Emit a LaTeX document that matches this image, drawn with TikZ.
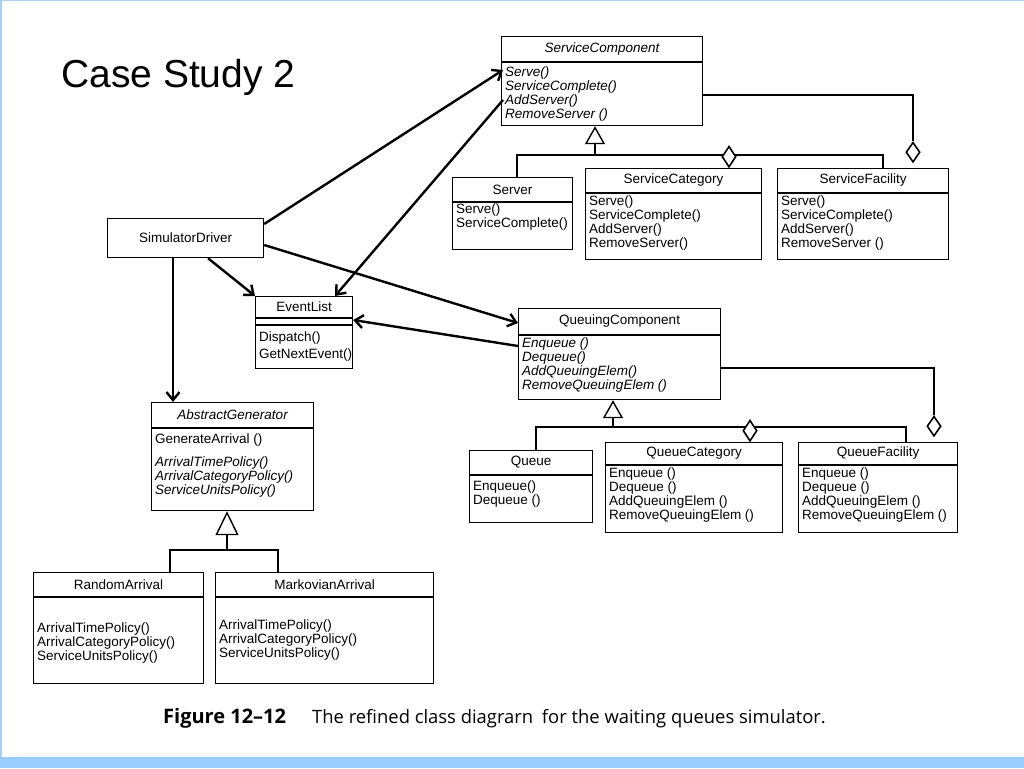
\documentclass[tikz,border=0pt]{standalone}
\usepackage{fontspec}
\setmainfont{Liberation Sans}
\newfontfamily\capfont{Open Sans}
\usetikzlibrary{arrows.meta,calc,shapes.geometric}
\definecolor{slideblue}{HTML}{99CCFF}
\definecolor{edgeblue}{HTML}{A9D1F5}
\tikzset{
  clsbox/.style={draw, line width=1.2pt, inner sep=0pt},
  boxline/.style={line width=1.2pt},
  clstitle/.style={font=\fontsize{13.5}{14}\selectfont, inner sep=0pt},
  clsops/.style={font=\fontsize{13.5}{14}\selectfont, align=left, inner sep=0pt},
  assoc/.style={line width=2.4pt, -{Straight Barb[length=8pt,width=13pt]}},
  hier/.style={line width=2.8pt},
  gentip/.style={-{Triangle[open,length=18pt,width=20pt,line width=1.4pt]}},
  aggd/.style={diamond, draw, fill=white, line width=1.6pt, inner sep=0pt,
    minimum width=14pt, minimum height=21pt, anchor=south},
}
% name, x, y, w, h, header height, title, ops top offset, ops
\newcommand\umlclass[9]{%
  \node[clsbox, minimum width=#4pt, minimum height=#5pt, anchor=north west] (#1) at (#2,#3) {};
  \draw[boxline] ($(#1.north west)+(0,#6)$) -- ($(#1.north east)+(0,#6)$);
  \node[clstitle] (#1-t) at ($(#1.north)+(0,#6/2)$) {#7};
  \node[clsops, anchor=north west] (#1-o) at ($(#1.north west)+(4,#8)$) {#9};
}
\begin{document}
\begin{tikzpicture}[x=1pt,y=-1pt]
\useasboundingbox (0,0) rectangle (1024,768);
\fill[white] (0,0) rectangle (1024,768);
\fill[slideblue] (0,757) rectangle (1024,768);
\draw[edgeblue, line width=1.5pt] (0,0.75) -- (1024,0.75);
\draw[edgeblue, line width=1.5pt] (0.75,0) -- (0.75,757);

\node[anchor=base west, inner sep=0pt, font=\fontsize{39}{42}\selectfont] (ttl) at (61,87) {Case Study 2};

% classes
\umlclass{scomp}{501}{36}{201}{89}{26}{\itshape ServiceComponent}{31}{\itshape Serve()\\\itshape ServiceComplete()\\\itshape AddServer()\\\itshape RemoveServer ()}
\umlclass{server}{452}{177}{120}{72}{25}{Server}{27}{Serve()\\ServiceComplete()}
\umlclass{scat}{585}{168}{176}{91}{25}{ServiceCategory}{28}{Serve()\\ServiceComplete()\\AddServer()\\RemoveServer()}
\umlclass{sfac}{777}{168}{171}{91}{25}{ServiceFacility}{28}{Serve()\\ServiceComplete()\\AddServer()\\RemoveServer ()}
\node[clsbox, minimum width=156pt, minimum height=39pt, anchor=north west,
  font=\fontsize{13.5}{14}\selectfont] (sim) at (107,218) {SimulatorDriver};
\umlclass{elist}{255}{296}{97}{72}{22}{EventList}{36}{Dispatch()\\[3pt]GetNextEvent()}
\draw[boxline] ($(elist.north west)+(0,29)$) -- ($(elist.north east)+(0,29)$);
\umlclass{qcomp}{518}{308}{202}{91}{27}{QueuingComponent}{30}{\itshape Enqueue ()\\\itshape Dequeue()\\\itshape AddQueuingElem()\\\itshape RemoveQueuingElem ()}
\umlclass{queue}{469}{450}{123}{72}{25}{Queue}{31}{Enqueue()\\Dequeue ()}
\umlclass{qcat}{605}{442}{177}{90}{23}{QueueCategory}{26}{Enqueue ()\\Dequeue ()\\AddQueuingElem ()\\RemoveQueuingElem ()}
\umlclass{qfac}{798}{442}{159}{90}{23}{QueueFacility}{26}{Enqueue ()\\Dequeue ()\\AddQueuingElem ()\\RemoveQueuingElem ()}
\umlclass{agen}{151}{402}{162}{108}{26}{\itshape AbstractGenerator}{32}{GenerateArrival ()\\[9pt]\itshape ArrivalTimePolicy()\\\itshape ArrivalCategoryPolicy()\\\itshape ServiceUnitsPolicy()}
\umlclass{rarr}{33}{572}{170}{111}{25}{RandomArrival}{51}{ArrivalTimePolicy()\\ArrivalCategoryPolicy()\\ServiceUnitsPolicy()}
\umlclass{marr}{215}{572}{218}{111}{25}{MarkovianArrival}{48}{ArrivalTimePolicy()\\ArrivalCategoryPolicy()\\ServiceUnitsPolicy()}

% service hierarchy
\coordinate (sj) at (595,155);
\draw[hier] ($(server.north west)+(65,0)$) |- (sj) -| ($(sfac.north west)+(106,0)$);
\draw[hier, gentip] (sj) -- ($(scomp.south west)+(94,0)$);
\node[aggd] (d1) at ($(scat.north west)+(144,0)$) {};
\node[aggd, minimum height=20pt] (d2) at ($(sfac.north west)+(136,-5)$) {};
\draw[hier] ($(scomp.north east)+(0,59)$) -| (d2.north);

% queue hierarchy
\coordinate (qj) at (613,427);
\draw[hier] ($(queue.north west)+(67,0)$) |- (qj) -| ($(qfac.north west)+(108,0)$);
\draw[hier, gentip] (qj) -- ($(qcomp.south west)+(95,0)$);
\node[aggd] (d3) at ($(qcat.north west)+(145,0)$) {};
\node[aggd, minimum height=20pt] (d4) at ($(qfac.north west)+(136,-5)$) {};
\draw[hier] ($(qcomp.north east)+(0,60)$) -| (d4.north);

% generator hierarchy
\coordinate (gj) at (227,550);
\draw[hier] ($(rarr.north west)+(137,0)$) |- (gj) -| ($(marr.north west)+(63,0)$);
\draw[hier, -{Triangle[open,length=24pt,width=23pt,line width=1.4pt]}] (gj) -- ($(agen.south west)+(76,0)$);

% associations
\draw[assoc] ($(sim.north east)+(0,6)$) -- ($(scomp.north west)+(2,34)$);
\draw[assoc] ($(scomp.north west)+(2,64)$) -- ($(elist.north west)+(80,0)$);
\draw[assoc] ($(sim.south west)+(101,0)$) -- (elist.north west);
\draw[assoc] ($(sim.north east)+(0,27)$) -- ($(qcomp.north west)+(0,15)$);
\draw[assoc] ($(qcomp.north west)+(0,38)$) -- ($(elist.north east)+(0,24)$);
\draw[assoc] ($(sim.south west)+(66,0)$) -- ($(agen.north west)+(22,0)$);

% caption
\node[anchor=base west, inner sep=0pt, font=\capfont\bfseries\fontsize{20}{22}\selectfont] (figlbl) at (163,723) {Figure 12–12};
\node[anchor=base west, inner sep=0pt, font=\capfont\fontsize{18.4}{20}\selectfont] (figcap) at (312,723) {The refined class diagrarn\hspace{4pt} for the waiting queues simulator.};
\end{tikzpicture}
\end{document}
